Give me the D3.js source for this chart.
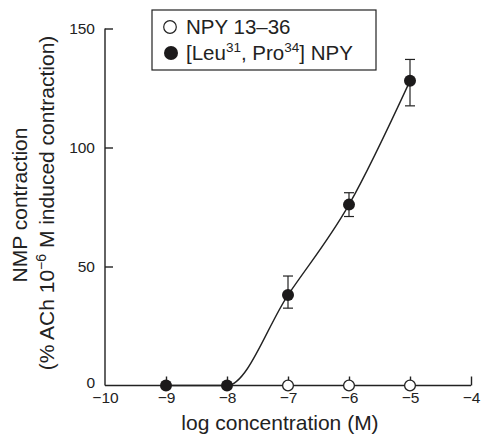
<!DOCTYPE html>
<html>
<head>
<meta charset="utf-8">
<script src="https://cdn.jsdelivr.net/npm/d3@7"></script>
<style>
  body { margin: 0; background: #fff; }
  svg { font-family: "Liberation Sans", Arial, sans-serif; }
</style>
</head>
<body>
<svg id="canvas" width="481" height="435"></svg>
<script>
// data
const logConc = [-9, -8, -7, -6, -5]
const leuPro = [0, 0, 38, 76, 128]
const leuProUpper = [null, null, 46, 81, 137]
const leuProLower = [null, null, 32.5, 71, 117.5]
const npyConc = [-7, -6, -5]
const npy1336 = [0, 0, 0]
const xTicks = [-10, -9, -8, -7, -6, -5, -4]
const yTicks = [0, 50, 100, 150]

const canvas = d3.select('#canvas')

const xScale = d3.scaleLinear().domain([-10, -4]).range([105, 471])
const yScale = d3.scaleLinear().domain([0, 150]).range([385.5, 28.5])

// axes - ticks point inwards
const xAxis = d3.axisBottom(xScale).tickValues(xTicks).tickSize(-9).tickPadding(6)
  .tickFormat(d => d < 0 ? '\u2212' + Math.abs(d) : d)
const yAxis = d3.axisLeft(yScale).tickValues(yTicks).tickSize(-8).tickPadding(10)

const gx = canvas.append('g')
  .attr('transform', `translate(0, ${yScale(0)})`)
  .call(xAxis)
gx.select('.domain').attr('d', `M${xScale(-10)},0H${xScale(-4)}`)
gx.selectAll('.tick').filter(d => d === -10).select('line').remove()

const gy = canvas.append('g')
  .attr('transform', `translate(${xScale(-10)}, 0)`)
  .call(yAxis)
gy.select('.domain').attr('d', `M0,${yScale(150)}V${yScale(0)}`)
gy.selectAll('.tick').filter(d => d === 0).select('line').remove()

canvas.selectAll('.domain, .tick line').attr('stroke', '#222').attr('stroke-width', 1.4)
canvas.selectAll('g').attr('font-family', null)
canvas.selectAll('.tick text').style('font-size', '15.5px').attr('fill', '#222')
gy.selectAll('.tick text').attr('dy', '0.3em')
// the zero label sits a little higher, clear of the x labels
gy.selectAll('.tick').filter(d => d === 0).select('text').attr('y', -3)

// curve through filled points
const line = d3.line()
  .x(d => xScale(d[0]))
  .y(d => yScale(d[1]))
  .curve(d3.curveMonotoneX)

canvas.append('path')
  .datum(logConc.map((c, i) => [c, leuPro[i]]))
  .attr('d', line)
  .attr('fill', 'none')
  .attr('stroke', '#222')
  .attr('stroke-width', 1.4)

// error bars
const errs = logConc.map((c, i) => ({ c, hi: leuProUpper[i], lo: leuProLower[i] })).filter(d => d.hi !== null)
const eb = canvas.selectAll('.err').data(errs).enter().append('g').attr('class', 'err')
  .attr('stroke', '#222').attr('stroke-width', 1.2)
eb.append('line')
  .attr('x1', d => xScale(d.c)).attr('x2', d => xScale(d.c))
  .attr('y1', d => yScale(d.hi)).attr('y2', d => yScale(d.lo))
eb.append('line')
  .attr('x1', d => xScale(d.c) - 5).attr('x2', d => xScale(d.c) + 5)
  .attr('y1', d => yScale(d.hi)).attr('y2', d => yScale(d.hi))
eb.append('line')
  .attr('x1', d => xScale(d.c) - 5).attr('x2', d => xScale(d.c) + 5)
  .attr('y1', d => yScale(d.lo)).attr('y2', d => yScale(d.lo))

// open circles
canvas.selectAll('.open').data(npyConc).enter().append('circle')
  .attr('class', 'open')
  .attr('cx', d => xScale(d))
  .attr('cy', (d, i) => yScale(npy1336[i]))
  .attr('r', 5.4)
  .attr('fill', '#fff').attr('stroke', '#222').attr('stroke-width', 1.3)

// filled circles
canvas.selectAll('.filled').data(logConc).enter().append('circle')
  .attr('class', 'filled')
  .attr('cx', d => xScale(d))
  .attr('cy', (d, i) => yScale(leuPro[i]))
  .attr('r', 6)
  .attr('fill', '#1c1a1b')

// axis titles
canvas.append('text')
  .attr('x', 280).attr('y', 430)
  .attr('text-anchor', 'middle')
  .style('font-size', '21px').attr('fill', '#222')
  .text('log concentration (M)')

canvas.append('text')
  .attr('transform', 'translate(27, 205) rotate(-90)')
  .attr('text-anchor', 'middle')
  .style('font-size', '21px').attr('fill', '#222')
  .text('NMP contraction')

const yl2 = canvas.append('text')
  .attr('transform', 'translate(54, 203) rotate(-90)')
  .attr('text-anchor', 'middle')
  .style('font-size', '21px').attr('fill', '#222')
yl2.append('tspan').text('(% ACh 10')
yl2.append('tspan').attr('dy', -8).style('font-size', '14px').text('\u22126')
yl2.append('tspan').attr('dy', 8).text(' M induced contraction)')

// legend
const legend = canvas.append('g')
legend.append('rect')
  .attr('x', 152).attr('y', 10).attr('width', 224).attr('height', 60)
  .attr('fill', '#fff').attr('stroke', '#222').attr('stroke-width', 1.2)
legend.append('circle').attr('cx', 170).attr('cy', 27).attr('r', 6.3)
  .attr('fill', '#fff').attr('stroke', '#222').attr('stroke-width', 1.2)
legend.append('circle').attr('cx', 171).attr('cy', 53).attr('r', 7)
  .attr('fill', '#1c1a1b')
legend.append('text').attr('x', 186).attr('y', 33.5)
  .style('font-size', '20.5px').attr('fill', '#222').text('NPY 13\u201336')
const l2 = legend.append('text').attr('x', 186).attr('y', 60)
  .style('font-size', '20.5px').attr('fill', '#222')
l2.append('tspan').text('[Leu')
l2.append('tspan').attr('dy', -8).style('font-size', '13.5px').text('31')
l2.append('tspan').attr('dy', 8).text(', Pro')
l2.append('tspan').attr('dy', -8).style('font-size', '13.5px').text('34')
l2.append('tspan').attr('dy', 8).text('] NPY')
</script>
</body>
</html>
